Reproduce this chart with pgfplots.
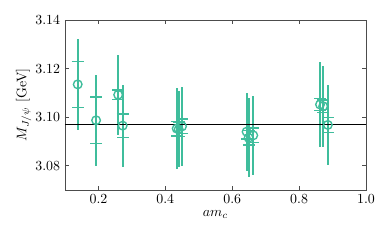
\documentclass[border=0pt]{standalone}
\usepackage{pgfplots}
\pgfplotsset{compat=1.18}
\usepackage{pgfplotstable}
\definecolor{tealc}{RGB}{63,189,156}
\pgfplotstableread{
x y es et
0.138 3.1135 0.0095 0.0186
0.193 3.0987 0.0096 0.0187
0.259 3.1092 0.0020 0.0165
0.2725 3.0965 0.0048 0.0169
0.434 3.0953 0.0030 0.0165
0.440 3.0950 0.0030 0.0157
0.450 3.0962 0.0030 0.0162
0.643 3.0940 0.0030 0.0161
0.649 3.0915 0.0030 0.0162
0.663 3.0925 0.0030 0.0163
0.8626 3.1052 0.0025 0.0175
0.872 3.1045 0.0025 0.0166
0.886 3.0968 0.0030 0.0164
}\datatab
\begin{document}
\begin{tikzpicture}
\begin{axis}[
  at={(0pt,0pt)}, anchor=south west,
  scale only axis, width=216.7pt, height=122.4pt,
  xmin=0.1, xmax=1.0, ymin=3.07, ymax=3.14,
  xtick={0.2,0.4,0.6,0.8,1.0},
  ytick={3.08,3.10,3.12,3.14},
  xticklabel style={/pgf/number format/.cd,fixed,fixed zerofill,precision=1},
  yticklabel style={/pgf/number format/.cd,fixed,fixed zerofill,precision=2},
  tick align=inside, major tick length=3pt,
  xtick pos=both, ytick pos=both,
  every tick/.style={black!70, line width=0.6pt},
  axis line style={black!70, line width=0.6pt},
  xlabel={$am_c$}, ylabel={$M_{J/\psi}$ [GeV]},
  xlabel style={yshift=2pt},
  ylabel style={yshift=-4pt},
  clip=false,
]
\addplot[draw=none, mark=none, forget plot,
  error bars/.cd, y dir=both, y explicit, error mark=none,
  error bar style={tealc, line width=1.35pt}]
  table[x=x, y=y, y error=et] {\datatab};
\addplot[only marks, mark=o, mark size=3.1pt, tealc, mark options={line width=1pt},
  error bars/.cd, y dir=both, y explicit, error mark=-,
  error mark options={rotate=90, mark size=4.3pt, line width=1pt, tealc},
  error bar style={tealc, line width=1.35pt}]
  table[x=x, y=y, y error=es] {\datatab};
\addplot[black, line width=1.1pt, mark=none] coordinates {(0.1,3.0969) (1.0,3.0969)};
\end{axis}
\pgfresetboundingbox
\path (-46.8pt,-36.72pt) rectangle (234pt,136.8pt);
\end{tikzpicture}
\end{document}
